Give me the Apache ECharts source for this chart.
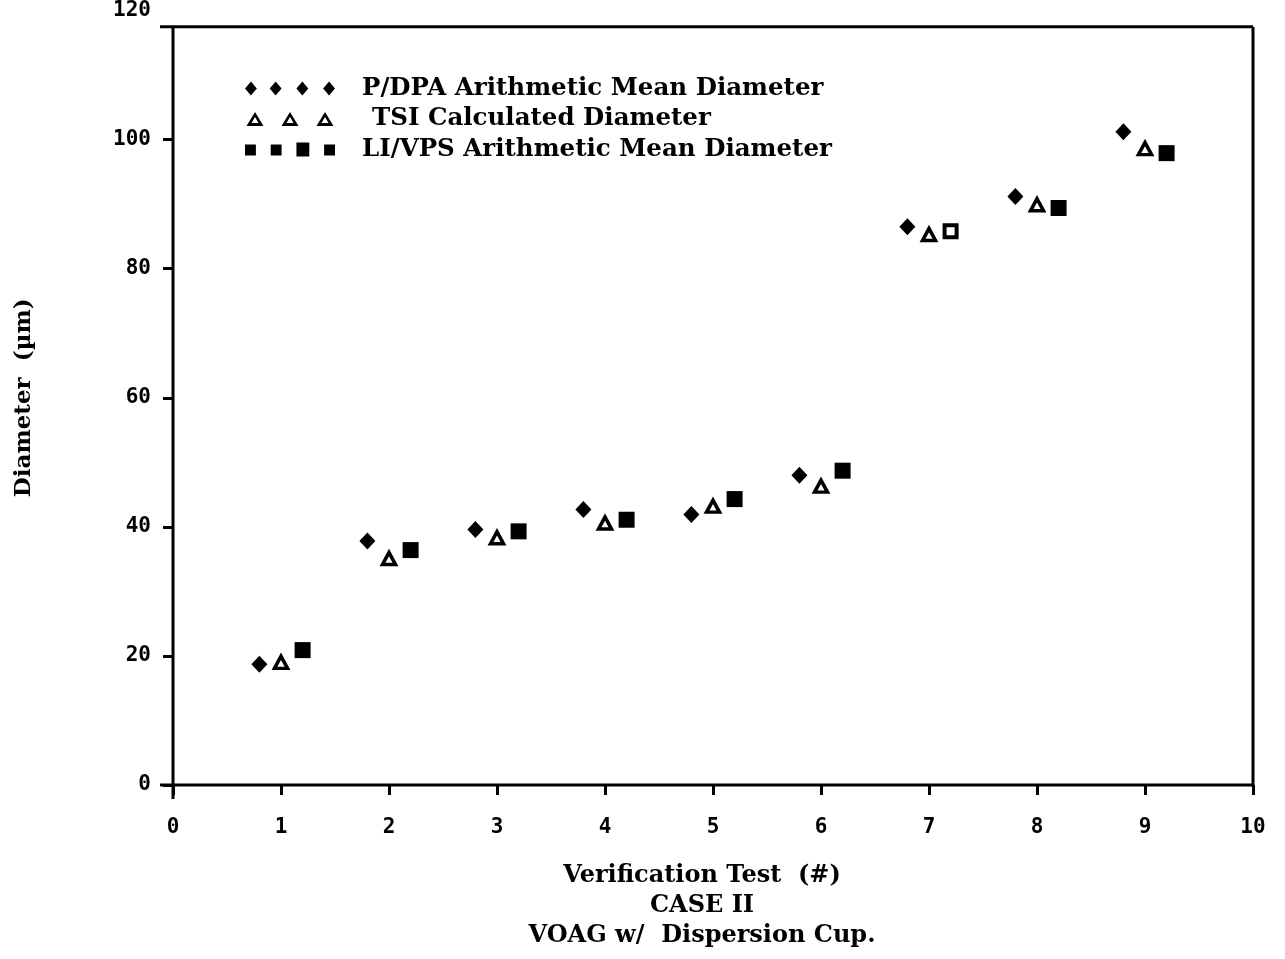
<!DOCTYPE html>
<html>
<head>
<meta charset="utf-8">
<script src="https://cdn.jsdelivr.net/npm/echarts@6/dist/echarts.min.js"></script>
<style>html,body{margin:0;padding:0;background:#fff}#c{width:1285px;height:959px}</style>
</head>
<body>
<div id="c"></div>
<script>
// ---- data ----
const tests = [1, 2, 3, 4, 5, 6, 7, 8, 9];
const pdpaMean = [18.7, 37.8, 39.6, 42.7, 41.9, 48.0, 86.5, 91.2, 101.2];
const tsiCalc  = [19.0, 35.1, 38.3, 40.6, 43.2, 46.3, 85.3, 89.9, 98.6];
const livpsMean= [20.9, 36.4, 39.3, 41.1, 44.3, 48.7, 85.8, 89.4, 97.9];
const xTicks = [0,1,2,3,4,5,6,7,8,9,10];
const yTicks = [0,20,40,60,80,100,120];
const seriesNames = ['P/DPA Arithmetic Mean Diameter','TSI Calculated Diameter','LI/VPS Arithmetic Mean Diameter'];
const xTitle = 'Verification Test  (#)\nCASE II\nVOAG w/  Dispersion Cup.';
const yTitle = 'Diameter  (µm)';
const offsets = [-0.2, 0, 0.2];
const FRAME_TOP = 117.5;

const serif = '"DejaVu Serif", "Liberation Serif", serif';
const mono = '"DejaVu Sans Mono", monospace';

// legend icon paths
function diamondsPath(){
  const cs=[6,31,58,85]; return 'path://'+cs.map(c=>`M${c} 0L${c+6} 7L${c} 14L${c-6} 7Z`).join('');
}
function trianglesPath(){
  const cs=[0,35,70]; return 'path://'+cs.map(o=>`M${o} 14L${o+8.5} 0L${o+17} 14Z M${o+5} 11L${o+12} 11L${o+8.5} 5Z`).join('');
}
function squaresPath(){
  return 'path://M0 2H11V13H0Z M26 2H37V13H26Z M52 0H65V14H52Z M80 2H91V13H80Z';
}

const chart = echarts.init(document.getElementById('c'), null, {renderer:'canvas'});
const lw = 3;
const option = {
  backgroundColor:'#fff',
  animation:false,
  grid:{left:173, right:32, top:10, bottom:174},
  legend:{
    orient:'vertical', left:240, top:71, itemWidth:90, itemHeight:14, itemGap:5.5,
    textStyle:{fontFamily:serif, fontWeight:'bold', fontSize:24.5, color:'#000', padding:[0,0,0,22]},
    data:[
      {name:seriesNames[0], icon:diamondsPath(), itemStyle:{color:'#000', borderWidth:0, opacity:1}},
      {name:seriesNames[1], icon:trianglesPath(), itemStyle:{color:'#000', borderWidth:0, opacity:1}, textStyle:{padding:[0,0,0,32]}},
      {name:seriesNames[2], icon:squaresPath(), itemStyle:{color:'#000', borderWidth:0, opacity:1}}
    ]
  },
  xAxis:{
    type:'value', min:0, max:10, interval:1,
    name:xTitle, nameLocation:'middle', nameGap:76,
    nameTextStyle:{fontFamily:serif, fontWeight:'bold', fontSize:24, color:'#000', lineHeight:30, padding:[0,22,0,0]},
    axisLine:{show:false},
    axisTick:{show:true, length:10, lineStyle:{color:'#000', width:lw}},
    axisLabel:{margin:32, fontFamily:mono, fontWeight:'bold', fontSize:21, color:'#000',
      customValues:xTicks, formatter:v=>String(v)},
    splitLine:{show:false}
  },
  yAxis:{
    type:'value', min:0, max:120, interval:20,
    name:yTitle, nameLocation:'middle', nameGap:137, nameRotate:90,
    nameTextStyle:{fontFamily:serif, fontWeight:'bold', fontSize:23, color:'#000'},
    axisLine:{show:false},
    axisTick:{show:true, length:10, lineStyle:{color:'#000', width:lw}, customValues:[0,20,40,60,80,100]},
    axisLabel:{margin:22, fontFamily:mono, fontWeight:'bold', fontSize:21, color:'#000',
      customValues:yTicks, formatter:v=>String(v)},
    splitLine:{show:false}
  },
  series:[
    {name:seriesNames[0], type:'scatter', symbol:'diamond', symbolSize:[16,17],
     itemStyle:{color:'#000', opacity:1},
     data:tests.map((t,i)=>[t+offsets[0], pdpaMean[i]])},
    {name:seriesNames[1], type:'scatter', symbol:'triangle', symbolSize:[13,12],
     itemStyle:{color:'#fff', borderColor:'#000', borderWidth:3.5, opacity:1},
     data:tests.map((t,i)=>[t+offsets[1], tsiCalc[i]])},
    {name:seriesNames[2], type:'scatter', symbol:'rect', symbolSize:[16,16],
     itemStyle:{color:'#000', opacity:1},
     data:tests.map((t,i)=> i===6
        ? {value:[t+offsets[2], livpsMean[i]], symbolSize:[12,12], itemStyle:{color:'#fff', borderColor:'#000', borderWidth:4, opacity:1}}
        : [t+offsets[2], livpsMean[i]])}
  ]
};
chart.setOption(option);

// frame drawn from axis coordinates
const p0 = chart.convertToPixel({gridIndex:0},[0,0]);
const pT = chart.convertToPixel({gridIndex:0},[10,FRAME_TOP]);
const x0=p0[0], y0=p0[1], x1=pT[0], yT=pT[1];
const ls={stroke:'#000', lineWidth:lw};
chart.setOption({graphic:[
  {type:'line', shape:{x1:x0, y1:yT, x2:x0, y2:y0+14}, style:ls, z:10},
  {type:'line', shape:{x1:x0-13, y1:y0, x2:x1, y2:y0}, style:ls, z:10},
  {type:'line', shape:{x1:x0-13, y1:yT, x2:x1, y2:yT}, style:ls, z:10},
  {type:'line', shape:{x1:x1, y1:yT, x2:x1, y2:y0}, style:ls, z:10}
]});
</script>
</body>
</html>
